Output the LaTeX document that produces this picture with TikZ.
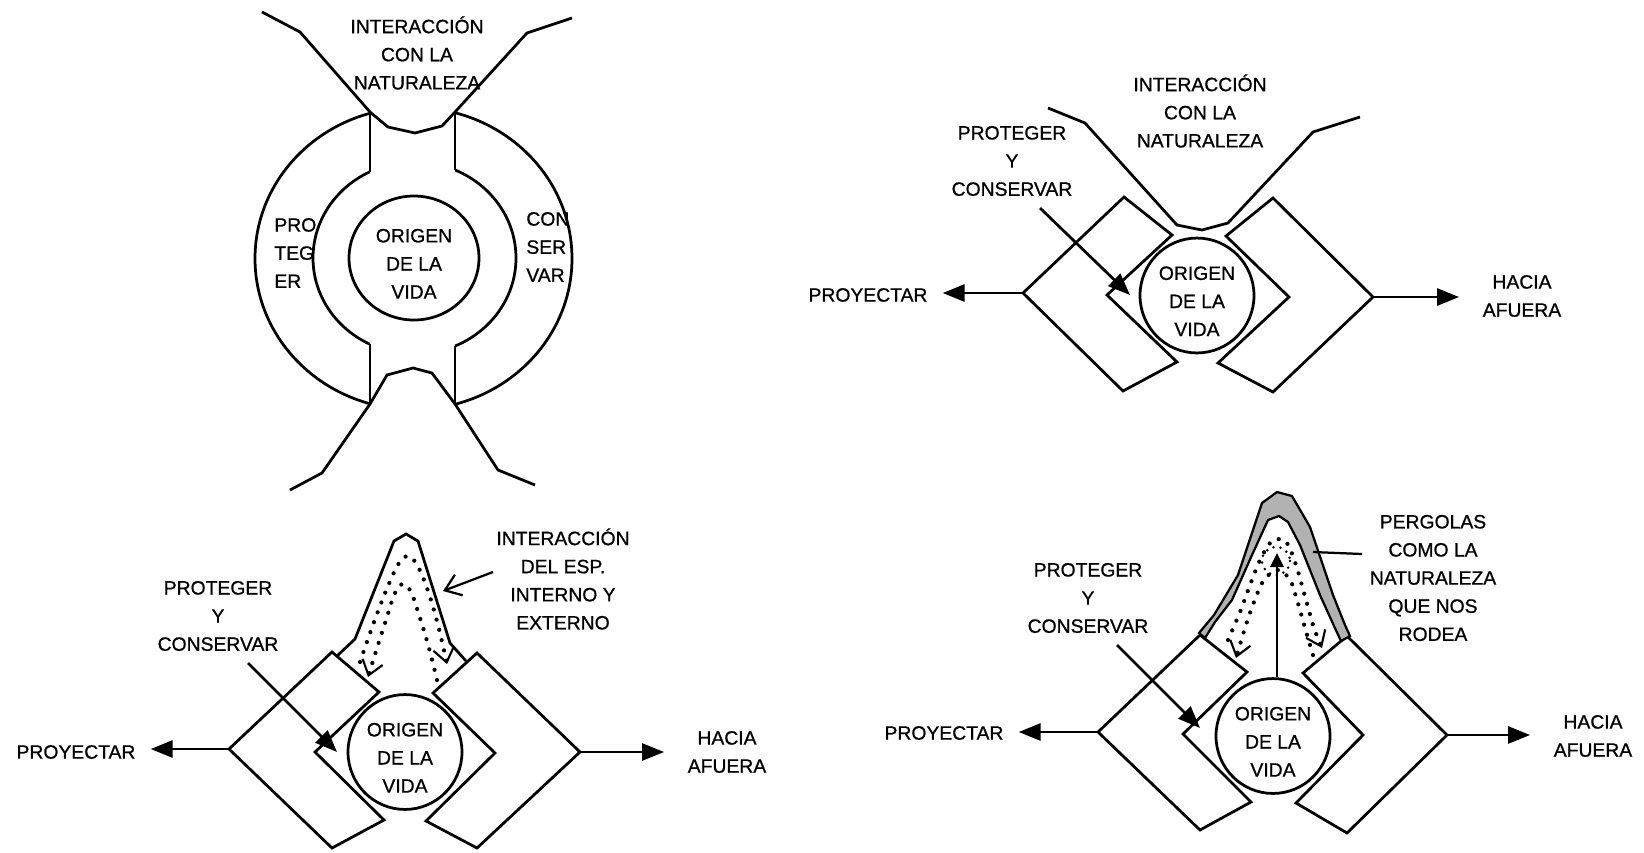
\documentclass[tikz,border=0pt]{standalone}
\usepackage{fontspec}
\setmainfont{Liberation Sans}[FakeBold=0.8]
\usetikzlibrary{arrows.meta,shapes.geometric}
\newcommand{\alto}{\rule{0pt}{5mm}}

\begin{document}
\begin{tikzpicture}[x=0.2mm,y=-0.2mm,line width=.55mm,
  every node/.style={font=\fontsize{11}{16}\selectfont,align=center},
  origen/.style={draw,ellipse,inner sep=0pt,minimum width=22.8mm,minimum height=22mm},
  flecha/.style={-{Triangle[length=4.4mm,width=3.4mm]}},
  abierta/.style={line width=.45mm,-{Straight Barb[length=3mm,width=4.4mm]}},
  punteado/.style={line width=2.4pt,line cap=round,dash pattern=on 0pt off 6pt,
    -{Straight Barb[length=2.8mm,width=4.2mm,line width=1.2pt]}}]
\useasboundingbox (0,0) rectangle (1644,852);
\fill[white] (0,0) rectangle (1644,852);

% arriba izquierda
\node[origen,minimum width=26mm,minimum height=24.8mm] (or1) at (414,258) {\alto ORIGEN\\DE LA\\VIDA};
\begin{scope}
\clip (0,0) rectangle (370,852) (455,0) rectangle (1644,852);
\draw (413.5,258.5) ellipse [x radius=158.5,y radius=151];
\draw (414.5,258) ellipse [x radius=101.5,y radius=96];
\end{scope}
\draw (370,113.3) -- (370,171.7) (370,344.3) -- (370,403.7);
\draw (455,112.8) -- (455,170) (455,346) -- (455,404.2);
\draw (262,12) -- (300,32) -- (370,112) -- (388,127) -- (415,133) -- (442,126) -- (455,112) -- (527,33) -- (572,18);
\draw (290,490) -- (322,473) -- (370,404) -- (387,375) -- (413,368) -- (432,373) -- (455,404) -- (498,470) -- (535,485);
\node (in1) at (417,53) {INTERACCIÓN\\CON LA\\NATURALEZA};
\node[align=left,anchor=west,inner sep=0pt] (pr1) at (273,253) {PRO\\TEG\\ER};
\node[align=left,anchor=west,inner sep=0pt] (co1) at (525,247) {CON\\SER\\VAR};

% arriba derecha
\node[origen] (or2) at (1197,295.5) {\alto ORIGEN\\DE LA\\VIDA};
\node (in2) at (1200,111) {INTERACCIÓN\\CON LA\\NATURALEZA};
\node (pc2) at (1012,161) {PROTEGER\\Y\\CONSERVAR};
\node (py2) at (868,295) {PROYECTAR};
\node (ha2) at (1522,296) {HACIA\\AFUERA};
\coordinate (iz2) at (1023,293);
\coordinate (de2) at (1373,297);
\draw (iz2) -- (1124,197) -- (1172,235) -- (1107,295) -- (1177,362) -- (1123,391) -- cycle;
\draw (de2) -- (1273,198) -- (1226,236) -- (1289,297) -- (1218,363) -- (1273,392) -- cycle;
\draw (1048,108) -- (1085,123) -- (1177,225) -- (1202,230) -- (1228,223) -- (1313,132) -- (1360,117);
\coordinate (pc2a) at (1040,208);
\coordinate (pc2b) at (1130,295);
\draw[flecha] (pc2a) -- (pc2b);
\draw[flecha,shorten >=1.6mm] (iz2) -- (iz2 -| py2.east);
\draw[flecha,shorten >=3.3mm] (de2) -- (de2 -| ha2.west);

% abajo izquierda
\node[origen] (or3) at (405,752) {\alto ORIGEN\\DE LA\\VIDA};
\node (pc3) at (218,616) {PROTEGER\\Y\\CONSERVAR};
\node (py3) at (76,752) {PROYECTAR};
\node (ie3) at (563,579) {INTERACCIÓN\\DEL ESP.\\INTERNO Y\\EXTERNO};
\node (ha3) at (727,752) {HACIA\\AFUERA};
\coordinate (iz3) at (229,749);
\coordinate (de3) at (580,752);
\draw (iz3) -- (332,652) -- (379,692) -- (315,752) -- (384,820) -- (332,848) -- cycle;
\draw (de3) -- (477,653) -- (433,693) -- (495,753) -- (426,821) -- (477,848) -- cycle;
\draw (337,656) -- (355,639) -- (394,541) -- (406,534) -- (418,541) -- (450,643) -- (466,661);
\draw[punteado] plot[smooth,tension=.6] coordinates {(360,662) (374,622) (388,586) (399,563) (407,556) (416,563) (427,588) (438,625) (447,664)};
\draw[punteado] plot[smooth,tension=.6] coordinates {(437,680) (429,648) (420,618) (411,592) (403,584) (395,593) (386,620) (377,648) (368,677)};
\coordinate (pc3a) at (248,663);
\coordinate (pc3b) at (337,752);
\draw[flecha] (pc3a) -- (pc3b);
\draw[flecha,shorten >=1.6mm] (iz3) -- (iz3 -| py3.east);
\draw[flecha,shorten >=3.3mm] (de3) -- (de3 -| ha3.west);
\coordinate (ie3a) at (493,572);
\coordinate (ie3b) at (443,591);
\draw[abierta] (ie3a) -- (ie3b);

% abajo derecha
\node[origen] (or4) at (1273,736) {\alto ORIGEN\\DE LA\\VIDA};
\node (pc4) at (1088,598) {PROTEGER\\Y\\CONSERVAR};
\node (py4) at (944,733) {PROYECTAR};
\node (pg4) at (1433,578) {PERGOLAS\\COMO LA\\NATURALEZA\\QUE NOS\\RODEA};
\node (ha4) at (1593,736) {HACIA\\AFUERA};
\coordinate (iz4) at (1098,732);
\coordinate (de4) at (1447,735);
\draw (iz4) -- (1200,635) -- (1247,672) -- (1183,734) -- (1251,802) -- (1200,830) -- cycle;
\draw (de4) -- (1347,636) -- (1303,673) -- (1363,735) -- (1296,803) -- (1347,833) -- cycle;
\draw[fill=gray!60,line width=.45mm] (1199,633) -- (1214,615) -- (1238,575) -- (1262,503) -- (1277,492) -- (1292,496) -- (1310,527) -- (1333,595) -- (1345,625) -- (1350,636)
  -- (1341,641) -- (1334,626) -- (1320,595) -- (1300,545) -- (1288,522) -- (1279,516) -- (1268,520) -- (1252,555) -- (1232,600) -- (1215,622) -- (1205,638) -- cycle;
\draw[punteado] plot[smooth,tension=.6] coordinates {(1228,640) (1240,612) (1250,585) (1260,560) (1270,543) (1278,539) (1287,543) (1296,565) (1306,600) (1314,628) (1322,648)};
\draw[punteado] plot[smooth,tension=.6] coordinates {(1313,655) (1305,628) (1297,600) (1290,580) (1278,570) (1264,580) (1254,602) (1245,628) (1236,658)};
\draw[line width=1.6pt,line cap=round,dash pattern=on 0pt off 4pt] (1276,561) circle (14);
\coordinate (pg4b) at (1277,553);
\draw[-{Triangle[length=2.8mm,width=2.6mm]}] (pg4b |- or4.north) -- (pg4b);
\coordinate (pg4a) at (1362,554);
\coordinate (pg4c) at (1313,552);
\draw[line width=.45mm] (pg4a) -- (pg4c);
\coordinate (pc4a) at (1117,645);
\coordinate (pc4b) at (1200,728);
\draw[flecha] (pc4a) -- (pc4b);
\draw[flecha,shorten >=1.6mm] (iz4) -- (iz4 -| py4.east);
\draw[flecha,shorten >=3.3mm] (de4) -- (de4 -| ha4.west);
\end{tikzpicture}
\end{document}
